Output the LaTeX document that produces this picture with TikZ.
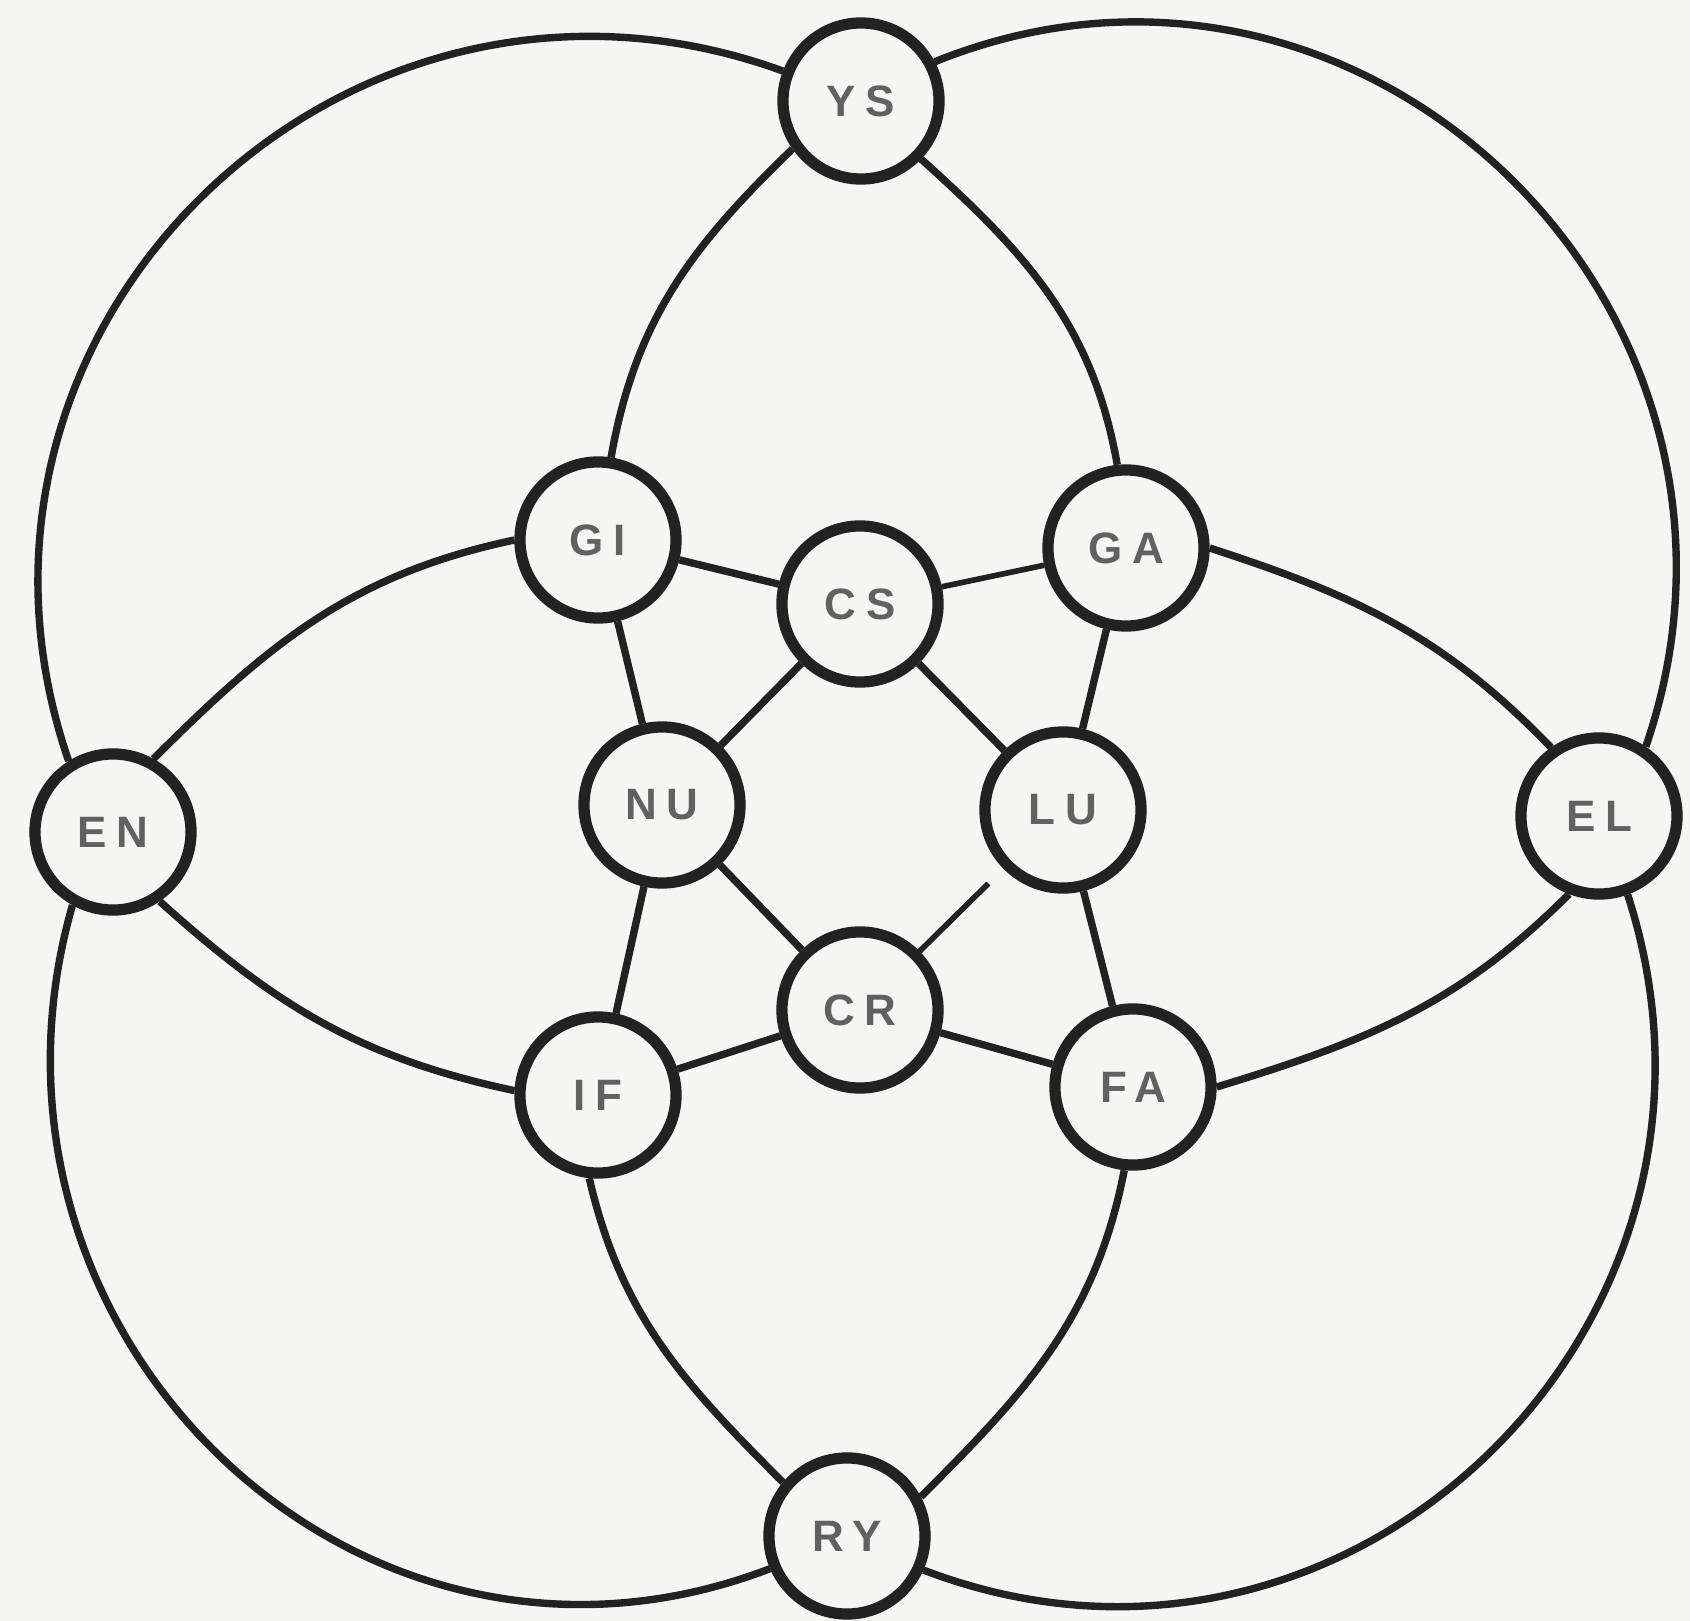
\documentclass[tikz,border=0pt]{standalone}
\usepackage{fontspec}
\setsansfont{Liberation Sans}
\definecolor{papier}{HTML}{F5F5F4}
\definecolor{encre}{HTML}{222222}

\begin{document}
\begin{tikzpicture}[x=0.01cm, y=-0.01cm,
  stn/.style={circle, draw=encre, line width=3.2pt, fill=papier,
    minimum size=1.56cm, inner sep=0pt, text=black!62,
    font=\sffamily\bfseries\fontsize{12.5}{14}\selectfont\addfontfeature{LetterSpace=22}},
  lnk/.style={draw=encre, line width=2.1pt},
  fin/.style={draw=encre, line width=1.6pt}]
  % Fond
  \fill[papier] (0,0) rectangle (1690,1621);
  \useasboundingbox (0,0) rectangle (1690,1621);

  % Cercles
  \node[stn] (YS) at (861,101) {YS};
  \node[stn] (EN) at (113,832) {EN};
  \node[stn] (EL) at (1599,816) {EL};
  \node[stn] (RY) at (847,1536) {RY};
  \node[stn] (GI) at (598,540) {GI};
  \node[stn] (GA) at (1126,548) {GA};
  \node[stn] (CS) at (860,604) {CS};
  \node[stn] (NU) at (662,805) {NU};
  \node[stn] (LU) at (1063,810) {LU};
  \node[stn] (CR) at (860,1010) {CR};
  \node[stn] (IF) at (598,1095) {IF};
  \node[stn] (FA) at (1133,1087) {FA};

  % Arcs exterieurs
  \draw[lnk] (YS.159) to[out=160, in=109, looseness=1.19] (EN.122);
  \draw[lnk] (YS.28) to[out=22, in=71, looseness=1.2] (EL.56);
  \draw[lnk] (EN.241) to[out=-106, in=201, looseness=1.18] (RY.203);
  \draw[lnk] (RY.336) to[out=-21, in=-72, looseness=1.19] (EL.290);

  % Arcs interieurs
  \draw[lnk] (YS.215) to[out=224, in=80] (GI.81);
  \draw[lnk] (YS.316) to[out=-42, in=100] (GA.96);
  \draw[lnk] (EN.61) to[out=45, in=192] (GI.180);
  \draw[lnk] (GA.0) to[out=-18, in=134] (EL.125);
  \draw[lnk] (EN.304) to[out=-42, in=168] (IF.177);
  \draw[lnk] (IF.264) to[out=-77, in=135] (RY.140);
  \draw[lnk] (EL.249) to[out=225, in=17] (FA.0);
  \draw[lnk] (FA.264) to[out=259, in=45] (RY.28);

  % Liens droits
  \draw[lnk] (GI) -- (NU);
  \draw[lnk] (NU) -- (IF);
  \draw[lnk] (GA) -- (LU);
  \draw[lnk] (LU) -- (FA);
  \draw[lnk] (GI) -- (CS);
  \draw[fin] (CS) -- (GA);
  \draw[lnk] (IF) -- (CR);
  \draw[lnk] (CR) -- (FA);
  \draw[lnk] (CS) -- (NU);
  \draw[lnk] (CS) -- (LU);
  \draw[lnk] (NU) -- (CR);
  \draw[fin, shorten >=6pt] (CR) -- (LU);
\end{tikzpicture}
\end{document}
